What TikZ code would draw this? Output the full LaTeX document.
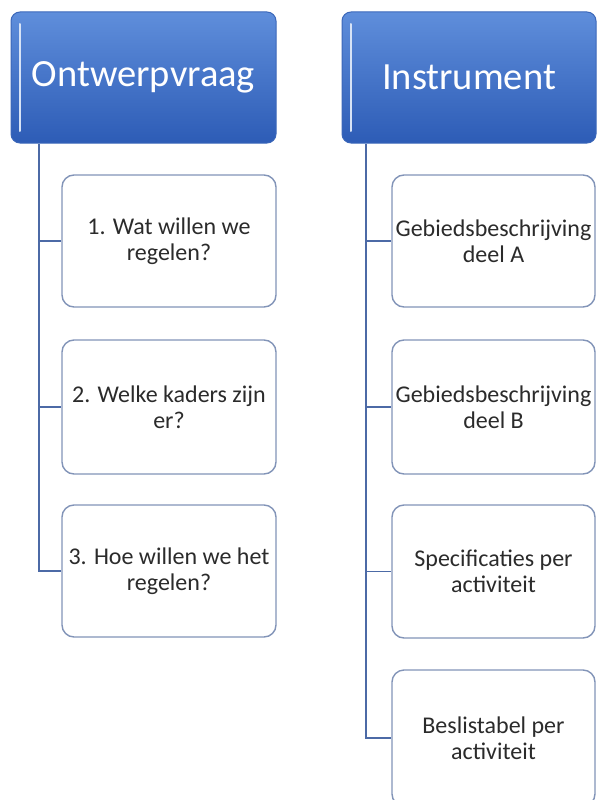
\documentclass[tikz,border=0pt]{standalone}
\usepackage{fontspec}
\setmainfont{Carlito}
\usetikzlibrary{shadows}
\definecolor{hdtop}{HTML}{5F8EDB}
\definecolor{hdbot}{HTML}{2D5CB6}
\definecolor{hdline}{HTML}{3B67B9}
\definecolor{boxline}{HTML}{8294B8}
\definecolor{conn}{HTML}{4C6AA6}
\definecolor{txt}{HTML}{2B2B2B}
\tikzset{
  header/.style={rounded corners=9pt, top color=hdtop, bottom color=hdbot, draw=hdline, line width=1pt,
    text=white, font=\fontsize{38.5}{40}\selectfont, inner sep=0pt},
  childbox/.style={rounded corners=12pt, fill=white, draw=boxline, line width=1.4pt,
    text=txt, font=\fontsize{24}{25.5}\selectfont, align=center, inner sep=0pt},
  connector/.style={draw=conn, line width=1.8pt},
  gloss/.style={draw=white!75!hdtop, line width=2pt, line cap=round}
}
\begin{document}
\begin{tikzpicture}[x=1pt,y=-1pt]
\useasboundingbox (0,0) rectangle (598,800);
\clip (0,0) rectangle (598,800);
% headers
\node[header, minimum width=265pt, minimum height=131pt] (h1) at (143.5,77.5) {\raisebox{-5pt}{Ontwerpvraag}};
\node[header, minimum width=254pt, minimum height=131pt] (h2) at (469,77.5) {\raisebox{-5pt}{Instrument}};
\draw[gloss] (20,24) -- (20,131);
\draw[gloss] (351,24) -- (351,131);
% left children
\node[childbox, minimum width=214pt, minimum height=132pt] (b1) at (169,241) {1. Wat willen we\\regelen?};
\node[childbox, minimum width=214pt, minimum height=134pt] (b2) at (169,407) {2. Welke kaders zijn\\er?};
\node[childbox, minimum width=214pt, minimum height=132pt] (b3) at (169,571) {3. Hoe willen we het\\regelen?};
% right children
\node[childbox, minimum width=203pt, minimum height=132pt] (c1) at (493.5,241) {Gebiedsbeschrijving\\deel A};
\node[childbox, minimum width=203pt, minimum height=134pt] (c2) at (493.5,407) {Gebiedsbeschrijving\\deel B};
\node[childbox, minimum width=203pt, minimum height=133pt] (c3) at (493.5,571.5) {Specificaties per\\activiteit};
\node[childbox, minimum width=203pt, minimum height=136pt] (c4) at (493.5,738) {Beslistabel per\\activiteit};
% trunks
\coordinate (t1) at (39,144);
\coordinate (t2) at (366,144);
\draw[connector] (t1) |- (b3.west);
\draw[connector] (t1 |- b1.west) -- (b1.west);
\draw[connector] (t1 |- b2.west) -- (b2.west);
\draw[connector] (t2) |- (c4.west);
\draw[connector] (t2 |- c1.west) -- (c1.west);
\draw[connector] (t2 |- c2.west) -- (c2.west);
\draw[connector] (t2 |- c3.west) -- (c3.west);
\end{tikzpicture}
\end{document}
